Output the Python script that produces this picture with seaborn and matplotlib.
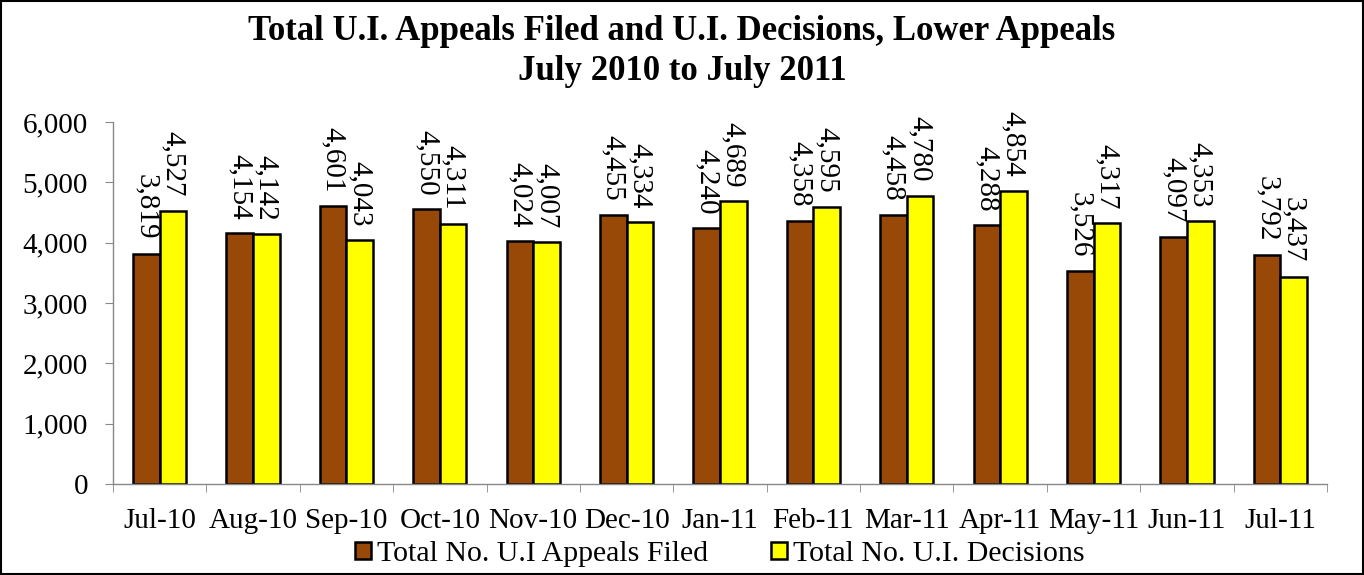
import matplotlib
matplotlib.use("Agg")
import matplotlib.pyplot as plt
import seaborn as sns
import pandas as pd
import numpy as np
from matplotlib.ticker import FuncFormatter, FixedLocator

months = ["Jul-10", "Aug-10", "Sep-10", "Oct-10", "Nov-10", "Dec-10", "Jan-11",
          "Feb-11", "Mar-11", "Apr-11", "May-11", "Jun-11", "Jul-11"]
filed = [3819, 4154, 4601, 4550, 4024, 4455, 4240, 4358, 4458, 4288, 3526, 4097, 3792]
decisions = [4527, 4142, 4043, 4311, 4007, 4334, 4689, 4595, 4780, 4854, 4317, 4353, 3437]
series = ["Total No. U.I Appeals Filed", "Total No. U.I. Decisions"]
colors = ["#984807", "#FFFF00"]

df = pd.DataFrame({
    "Month": months * 2,
    "Value": filed + decisions,
    "Series": [series[0]] * len(months) + [series[1]] * len(months),
})

sns.set_style("white")
plt.rcParams["font.family"] = ["Liberation Serif", "DejaVu Serif"]
plt.rcParams["text.color"] = "black"
plt.rcParams["xtick.color"] = "black"
plt.rcParams["ytick.color"] = "black"

fig = plt.figure(figsize=(13.64, 5.75), dpi=100)
ax = fig.add_axes([0.0828, 0.1583, 0.8901, 0.6297])

sns.barplot(data=df, x="Month", y="Value", hue="Series", palette=colors,
            order=months, hue_order=series, width=0.57, saturation=1,
            edgecolor="black", linewidth=1.8, ax=ax, legend=True)

ax.set_ylim(0, 6000)
ax.set_xlim(-0.5, len(months) - 0.5)
ax.set_yticks(range(0, 6001, 1000))
ax.yaxis.set_major_formatter(FuncFormatter(lambda v, p: f"{int(v):,}"))
ax.set_xlabel("")
ax.set_ylabel("")
ax.tick_params(axis="y", labelsize=21, left=True, length=6, color="#888888",
               labelcolor="black", pad=12)
ax.tick_params(axis="x", labelsize=21, bottom=False, labelcolor="black", pad=14)
ax.xaxis.set_minor_locator(FixedLocator(np.arange(-0.5, len(months), 1)))
ax.tick_params(axis="x", which="minor", bottom=True, length=6, color="#888888")
for s in ["top", "right"]:
    ax.spines[s].set_visible(False)
for s in ["left", "bottom"]:
    ax.spines[s].set_color("#888888")
    ax.spines[s].set_linewidth(1)

for container in ax.containers:
    for bar in container:
        h = bar.get_height()
        ax.annotate(f"{int(h):,}", (bar.get_x() + bar.get_width() / 2, h),
                    xytext=(0, 10), textcoords="offset points",
                    rotation=-90, ha="center", va="bottom", fontsize=21,
                    color="black")

handles, labels = ax.get_legend_handles_labels()
ax.legend(handles, labels, loc="upper center", bbox_to_anchor=(0.5, -0.125),
          ncol=2, frameon=False, fontsize=21.5, handlelength=0.55, handleheight=0.47,
          handletextpad=0.2, columnspacing=2.1, borderaxespad=0)

fig.suptitle("Total U.I. Appeals Filed and U.I. Decisions, Lower Appeals\nJuly 2010 to July 2011",
             fontsize=25, fontweight="bold", y=0.974, linespacing=1.3, color="black")

fig.patches.append(plt.Rectangle((0.001, 0.001), 0.998, 0.997, transform=fig.transFigure,
                                 fill=False, edgecolor="black", linewidth=1.5))

fig.savefig("out.png", dpi=100)
